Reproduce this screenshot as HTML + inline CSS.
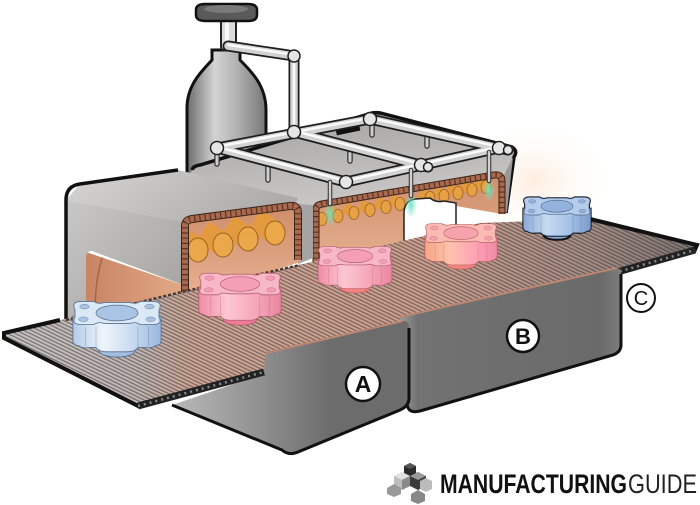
<!DOCTYPE html>
<html><head><meta charset="utf-8"><style>
html,body{margin:0;padding:0;background:#fff;width:700px;height:505px;overflow:hidden}
svg{display:block}
</style></head><body>
<svg xmlns="http://www.w3.org/2000/svg" xmlns:xlink="http://www.w3.org/1999/xlink" width="700" height="505" viewBox="0 0 700 505">
<defs>
 <linearGradient id="bottle" x1="0" x2="1" y1="0" y2="0">
  <stop offset="0" stop-color="#6c6c6c"/><stop offset="0.35" stop-color="#d4d4d4"/><stop offset="0.62" stop-color="#b3b3b3"/><stop offset="1" stop-color="#777"/>
 </linearGradient>
 <linearGradient id="hAtop" x1="0" y1="0" x2="1" y2="0.3">
  <stop offset="0" stop-color="#d8d6d4"/><stop offset="1" stop-color="#aeacaa"/>
 </linearGradient>
 <linearGradient id="hAend" x1="0" y1="0" x2="1" y2="1">
  <stop offset="0" stop-color="#cac8c6"/><stop offset="1" stop-color="#a09e9c"/>
 </linearGradient>
 <linearGradient id="hBtop" x1="0" y1="0" x2="0.3" y2="1">
  <stop offset="0" stop-color="#a4a2a0"/><stop offset="1" stop-color="#c9c7c5"/>
 </linearGradient>
 <linearGradient id="copper" x1="0" y1="0" x2="0" y2="1">
  <stop offset="0" stop-color="#cf8e6c"/><stop offset="1" stop-color="#e8b392"/>
 </linearGradient>
 <linearGradient id="copperL" x1="0" y1="0" x2="1" y2="0">
  <stop offset="0" stop-color="#c98464"/><stop offset="1" stop-color="#e2aa88"/>
 </linearGradient>
 <linearGradient id="beltg" gradientUnits="userSpaceOnUse" x1="0" y1="0" x2="700" y2="0">
  <stop offset="0" stop-color="#c6c3c3"/><stop offset="0.2" stop-color="#bdb5b2"/><stop offset="0.27" stop-color="#cba696"/><stop offset="0.6" stop-color="#c99f8e"/><stop offset="0.84" stop-color="#a48e87"/><stop offset="1" stop-color="#7c7472"/>
 </linearGradient>
 <pattern id="slats" width="3.3" height="20" patternUnits="userSpaceOnUse" patternTransform="rotate(-64)">
  <rect x="0" y="0" width="1.2" height="20" fill="#2e2220" fill-opacity="0.5"/>
 </pattern>
 <linearGradient id="trayA" gradientUnits="userSpaceOnUse" x1="175" y1="0" x2="330" y2="0">
  <stop offset="0" stop-color="#b8b8b8"/><stop offset="0.55" stop-color="#909090"/><stop offset="1" stop-color="#6c6c6c"/>
 </linearGradient>
 <linearGradient id="trayB" gradientUnits="userSpaceOnUse" x1="400" y1="0" x2="622" y2="0">
  <stop offset="0" stop-color="#9a9a9a"/><stop offset="0.08" stop-color="#727272"/><stop offset="0.9" stop-color="#6a6a6a"/><stop offset="1" stop-color="#7e7e7e"/>
 </linearGradient>
 <radialGradient id="glowG">
  <stop offset="0" stop-color="#6fe3c4" stop-opacity="0.95"/><stop offset="1" stop-color="#6fe3c4" stop-opacity="0"/>
 </radialGradient>
 <radialGradient id="warm">
  <stop offset="0" stop-color="#fde6d2" stop-opacity="0.7"/><stop offset="1" stop-color="#fff" stop-opacity="0"/>
 </radialGradient>
 <linearGradient id="sBL" x1="0" x2="1"><stop offset="0" stop-color="#b3cbe7"/><stop offset="0.35" stop-color="#eef4fb"/><stop offset="0.7" stop-color="#c6d8ee"/><stop offset="1" stop-color="#9ab7de"/></linearGradient>
 <linearGradient id="sBR" x1="0" x2="1"><stop offset="0" stop-color="#8aaad8"/><stop offset="0.35" stop-color="#c6daf0"/><stop offset="0.7" stop-color="#a3c0e5"/><stop offset="1" stop-color="#7b9ccd"/></linearGradient>
 <linearGradient id="sP" x1="0" x2="1"><stop offset="0" stop-color="#f08ca6"/><stop offset="0.35" stop-color="#fbc6d3"/><stop offset="0.7" stop-color="#f6a6b9"/><stop offset="1" stop-color="#e8879f"/></linearGradient>
 <linearGradient id="sO" x1="0" x2="1"><stop offset="0" stop-color="#f7a686"/><stop offset="0.35" stop-color="#ffc2ae"/><stop offset="0.7" stop-color="#ffa2b6"/><stop offset="1" stop-color="#f08aa6"/></linearGradient>
 <clipPath id="cutA"><path d="M186,222 L294,208 Q300,208 300,216 L300,262 L186,296 Z"/></clipPath>
 <clipPath id="cutB"><path d="M316,205 L498,175 L502,181 L502,214 L316,262 Z"/></clipPath>
 <g id="pp" fill="none">
  <path d="M228,46 L288,55 Q294,56 294,62 L294,132"/>
  <path d="M217,148 L370,119"/>
  <path d="M217,148 L346,182"/>
  <path d="M294,132 L428,167"/>
  <path d="M370,119 L508,150"/>
  <path d="M346,182 L499,148"/>
 </g>
</defs>

<ellipse cx="535" cy="180" rx="80" ry="60" fill="url(#warm)"/>

<!-- bottle -->
<path d="M187,180 L187,108 C187,84 203,70 212,60 L212,50 L240,50 L240,60 C252,72 266,86 266,110 L266,180 Z" fill="url(#bottle)" stroke="#111" stroke-width="3"/>
<rect x="221" y="18" width="15" height="32" rx="3" fill="#dcdcdc" stroke="#222" stroke-width="2"/>
<rect x="225" y="20" width="4" height="28" fill="#fafafa"/>
<path d="M196,10 Q196,4 205,4 L248,4 Q257,4 257,10 L257,15 Q257,21 248,21 L206,21 Q196,21 196,15 Z" fill="#5a5a5a" stroke="#111" stroke-width="2.5"/>
<ellipse cx="226" cy="9" rx="22" ry="4" fill="#7a7a7a"/>

<!-- hood B top -->
<path d="M190,178 Q190,167 200,165 L372,113 Q378,112 384,114 L512,147 Q517,151 513,157 L502,179 L316,206 L300,205 Z" fill="url(#hBtop)"/>
<path d="M262,142 L372,118 L445,137" fill="none" stroke="#3e3e3e" stroke-width="5"/>
<rect x="262" y="138" width="26" height="5" fill="#111" transform="rotate(-12 275 140)"/>
<rect x="336" y="128" width="24" height="5" fill="#111" transform="rotate(-12 348 130)"/>
<path d="M192,170 Q193,166 200,165 L372,113 Q378,112 384,114 L512,147 Q518,151 514,157 L506,213" fill="none" stroke="#111" stroke-width="3.5"/>
<path d="M502,179 L513,157 L507,212 L502,214 Z" fill="#9a9896"/>

<!-- hood B cut interior -->
<path d="M316,205 L498,175 L502,181 L502,214 L456,206 L456,242 L316,272 Z" fill="url(#copper)"/>
<g clip-path="url(#cutB)">
 <g fill="#e7a044" stroke="#9c6320" stroke-width="0.8">
  <g id="rb">
  <path d="M476,181 L486,187" stroke="#e39a3e" stroke-width="11" stroke-linecap="butt"/>
  <ellipse cx="486" cy="187" rx="5" ry="6.5"/>
  </g>
  <use xlink:href="#rb" transform="translate(-14,3)"/>
  <use xlink:href="#rb" transform="translate(-28,6)"/>
  <use xlink:href="#rb" transform="translate(-42,9)"/>
  <use xlink:href="#rb" transform="translate(-56,11)"/>
  <use xlink:href="#rb" transform="translate(-86,17)"/>
  <use xlink:href="#rb" transform="translate(-100,20)"/>
  <use xlink:href="#rb" transform="translate(-116,23)"/>
  <use xlink:href="#rb" transform="translate(-132,26)"/>
  <use xlink:href="#rb" transform="translate(-148,29)"/>
  <use xlink:href="#rb" transform="translate(-164,32)"/>
 </g>
</g>
<path d="M404,248 L404,212 Q405,200 416,199 L430,198 Q436,203 444,201 L456,203 L456,244 Z" fill="#fff" stroke="#222" stroke-width="1.5"/>
<path d="M316,264 L316,210 Q316,205 322,204 L494,175 Q502,174 502,181 L502,214" fill="none" stroke="#3a2418" stroke-width="7"/>
<path d="M316,264 L316,210 Q316,205 322,204 L494,175 Q502,174 502,181 L502,214" fill="none" stroke="#a8694e" stroke-width="5"/>
<path d="M316,264 L316,210 Q316,205 322,204 L494,175 Q502,174 502,181 L502,214" fill="none" stroke="#5a3222" stroke-width="5" stroke-dasharray="1.2 4"/>
<path d="M298,204 L313,205 L313,258 L298,264 Z" fill="#a6a4a2"/>

<!-- hood A -->
<path d="M86,252 L186,286 L186,320 L86,340 Z" fill="url(#copperL)"/>
<path d="M102,258 Q92,292 97,330" fill="none" stroke="#a5654a" stroke-width="1.5"/>
<path d="M66,200 L80,184 L178,170 L298,198 L294,208 L186,222 Z" fill="url(#hAtop)"/>
<path d="M66,200 L186,222 L186,286 L92,251 Q86,251 86,258 L86,330 L66,330 Z" fill="url(#hAend)"/>
<path d="M186,222 L294,208 Q300,208 300,216 L300,262 L186,300 Z" fill="url(#copper)"/>
<g clip-path="url(#cutA)" stroke="#9c6320" stroke-width="1">
 <path d="M255,219 L275,233" stroke="#e39a3e" stroke-width="23"/>
 <ellipse cx="275" cy="233" rx="10" ry="12" fill="#eba84a"/>
 <path d="M228,225 L248,239" stroke="#e39a3e" stroke-width="23"/>
 <ellipse cx="248" cy="239" rx="10" ry="12" fill="#eba84a"/>
 <path d="M203,231 L223,245" stroke="#e39a3e" stroke-width="23"/>
 <ellipse cx="223" cy="245" rx="10" ry="12" fill="#eba84a"/>
 <path d="M178,236 L198,250" stroke="#e39a3e" stroke-width="23"/>
 <ellipse cx="198" cy="250" rx="10" ry="12" fill="#eba84a"/>
</g>
<path d="M185,296 L185,226 Q185,220 192,219 L290,206 Q298,205 298,213 L298,260" fill="none" stroke="#3a2418" stroke-width="8"/>
<path d="M185,296 L185,226 Q185,220 192,219 L290,206 Q298,205 298,213 L298,260" fill="none" stroke="#a8694e" stroke-width="6"/>
<path d="M185,296 L185,226 Q185,220 192,219 L290,206 Q298,205 298,213 L298,260" fill="none" stroke="#5a3222" stroke-width="6" stroke-dasharray="1.2 4"/>
<path d="M66,330 L66,200 Q66,186 80,184 L178,170" fill="none" stroke="#111" stroke-width="3.5"/>

<!-- posts -->
<g stroke-linecap="round">
 <path d="M217,150 V164 M268,162 V180 M350,148 V161 M372,121 V135 M427,133 V146" stroke="#333" stroke-width="5.5"/>
 <path d="M217,150 V164 M268,162 V180 M350,148 V161 M372,121 V135 M427,133 V146" stroke="#cfcfcf" stroke-width="3"/>
</g>
<!-- pipes -->
<use xlink:href="#pp" stroke="#1e1e1e" stroke-width="11" stroke-linecap="round" stroke-linejoin="round"/>
<use xlink:href="#pp" stroke="#d2d2d2" stroke-width="7.5" stroke-linecap="round" stroke-linejoin="round"/>
<use xlink:href="#pp" stroke="#fbfbfb" stroke-width="2.5" stroke-linecap="round" stroke-linejoin="round" transform="translate(0,-1.2)"/>
<g fill="#e6e6e6" stroke="#222" stroke-width="1.5">
 <circle cx="217" cy="148" r="6.5"/><circle cx="294" cy="132" r="6.5"/><circle cx="370" cy="119" r="6.5"/>
 <circle cx="346" cy="182" r="6.5"/><circle cx="421" cy="165" r="6.5"/><circle cx="499" cy="148" r="6.5"/>
 <circle cx="294" cy="56" r="6"/><circle cx="428" cy="167" r="4.5"/><circle cx="508" cy="150" r="4.5"/>
</g>
<!-- nozzles -->
<ellipse cx="330" cy="214" rx="6" ry="13" fill="url(#glowG)"/>
<ellipse cx="411" cy="205" rx="6" ry="13" fill="url(#glowG)"/>
<ellipse cx="489" cy="190" rx="6" ry="12" fill="url(#glowG)"/>
<g stroke-linecap="round">
 <path d="M330,182 V204 M411,170 V196 M489,152 V181" stroke="#333" stroke-width="4.5"/>
 <path d="M330,182 V204 M411,170 V196 M489,152 V181" stroke="#d0d0d0" stroke-width="2.4"/>
</g>

<!-- belt -->
<path d="M4,333 L182,292 L480,223 L590,219 L697,245 L694,252 L140,407 L4,338 Z" fill="url(#beltg)"/>
<path d="M4,333 L182,292 L480,223 L590,219 L697,245 L694,252 L140,407 L4,338 Z" fill="url(#slats)"/>
<path d="M66,320 L182,292 L300,265" fill="none" stroke="#4a3630" stroke-width="2.5" stroke-dasharray="3 2"/>
<path d="M140,407 L4,338 L4,333 L60,320" fill="none" stroke="#111" stroke-width="4"/>
<path d="M590,219 L697,245 L694,252" fill="none" stroke="#111" stroke-width="4"/>
<path d="M614,273 L695,250" stroke="#222" stroke-width="7"/>
<path d="M614,273 L695,250" stroke="#8a8a8a" stroke-width="2.5" stroke-dasharray="2 4"/>

<!-- tray B -->
<path d="M400,317 L617,268 Q621,268 621,274 L621,345 Q621,352 613,355 L420,411 Q408,414 407,404 Z" fill="url(#trayB)"/>
<path d="M407,404 Q408,414 420,411 L613,355 Q621,352 621,345 L621,274" fill="none" stroke="#111" stroke-width="3"/>
<path d="M400,317 L617,268" stroke="#b98672" stroke-width="2"/>
<!-- tray A -->
<path d="M172,405 L263,374 L266,353 L403,321 Q409,320 409,328 L409,398 Q409,406 400,410 L298,452 Q289,456 282,450 Z" fill="url(#trayA)"/>
<path d="M172,405 L282,450 Q289,456 298,452 L400,410 Q409,406 409,398 L409,328" fill="none" stroke="#111" stroke-width="3"/>
<path d="M266,353 L403,321" stroke="#b98672" stroke-width="2"/>
<path d="M138,406 L264,372" stroke="#222" stroke-width="7"/>
<path d="M138,406 L264,372" stroke="#8a8a8a" stroke-width="2.5" stroke-dasharray="2 4"/>

<!-- parts -->
<g transform="translate(117,314) scale(1.05)">
 <ellipse cx="0" cy="35" rx="17" ry="6" fill="#a2bee2" stroke="#56708f" stroke-width="0.8"/>
 <path d="M-42,2 L-42,25 Q-42,30 -37,30 Q-33,33 -27,32 L-20,32 Q-17,36 -10,36 L10,36 Q17,36 20,32 L27,32 Q33,33 37,30 Q42,30 42,25 L42,2 Z" fill="url(#sBL)" stroke="#56708f" stroke-width="0.8"/>
 <path d="M-30,12 V31 M-20,12 V33 M20,12 V33 M30,12 V31" stroke="#56708f" stroke-opacity="0.3"/>
 <path d="M-40,-4 Q-44,-12 -34,-12 L-22,-12 Q-18,-9 -12,-11 L12,-11 Q18,-9 22,-12 L34,-12 Q44,-12 40,-4 L40,3 Q44,10 34,10 L22,10 Q18,7 12,9 L-12,9 Q-18,7 -22,10 L-34,10 Q-44,10 -40,3 Z" fill="#dbe8f6" stroke="#56708f" stroke-width="0.8"/>
 <ellipse cx="0" cy="-1" rx="20" ry="7.5" fill="#a9c4e4" stroke="#56708f" stroke-width="0.7"/>
 <g fill="#a9c4e4" stroke="#56708f" stroke-width="0.4"><ellipse cx="-31" cy="-7" rx="4.5" ry="2.2"/><ellipse cx="31" cy="-7" rx="4.5" ry="2.2"/><ellipse cx="-32" cy="5" rx="4.5" ry="2.2"/><ellipse cx="32" cy="5" rx="4.5" ry="2.2"/></g>
</g>
<g transform="translate(240,285) scale(0.98)">
 <ellipse cx="0" cy="35" rx="17" ry="6" fill="#f07b96" stroke="#b45c72" stroke-width="0.8"/>
 <path d="M-42,2 L-42,25 Q-42,30 -37,30 Q-33,33 -27,32 L-20,32 Q-17,36 -10,36 L10,36 Q17,36 20,32 L27,32 Q33,33 37,30 Q42,30 42,25 L42,2 Z" fill="url(#sP)" stroke="#b45c72" stroke-width="0.8"/>
 <path d="M-30,12 V31 M-20,12 V33 M20,12 V33 M30,12 V31" stroke="#b45c72" stroke-opacity="0.3"/>
 <path d="M-40,-4 Q-44,-12 -34,-12 L-22,-12 Q-18,-9 -12,-11 L12,-11 Q18,-9 22,-12 L34,-12 Q44,-12 40,-4 L40,3 Q44,10 34,10 L22,10 Q18,7 12,9 L-12,9 Q-18,7 -22,10 L-34,10 Q-44,10 -40,3 Z" fill="#f8b7c7" stroke="#b45c72" stroke-width="0.8"/>
 <ellipse cx="0" cy="-1" rx="20" ry="7.5" fill="#f49fb5" stroke="#b45c72" stroke-width="0.7"/>
 <g fill="#f49fb5" stroke="#b45c72" stroke-width="0.4"><ellipse cx="-31" cy="-7" rx="4.5" ry="2.2"/><ellipse cx="31" cy="-7" rx="4.5" ry="2.2"/><ellipse cx="-32" cy="5" rx="4.5" ry="2.2"/><ellipse cx="32" cy="5" rx="4.5" ry="2.2"/></g>
</g>
<g transform="translate(355,257) scale(0.88)">
 <ellipse cx="0" cy="35" rx="17" ry="6" fill="#f3837a" stroke="#b45c72" stroke-width="0.8"/>
 <path d="M-42,2 L-42,25 Q-42,30 -37,30 Q-33,33 -27,32 L-20,32 Q-17,36 -10,36 L10,36 Q17,36 20,32 L27,32 Q33,33 37,30 Q42,30 42,25 L42,2 Z" fill="url(#sP)" stroke="#b45c72" stroke-width="0.8"/>
 <path d="M-30,12 V31 M-20,12 V33 M20,12 V33 M30,12 V31" stroke="#b45c72" stroke-opacity="0.3"/>
 <path d="M-40,-4 Q-44,-12 -34,-12 L-22,-12 Q-18,-9 -12,-11 L12,-11 Q18,-9 22,-12 L34,-12 Q44,-12 40,-4 L40,3 Q44,10 34,10 L22,10 Q18,7 12,9 L-12,9 Q-18,7 -22,10 L-34,10 Q-44,10 -40,3 Z" fill="#f8b7c7" stroke="#b45c72" stroke-width="0.8"/>
 <ellipse cx="0" cy="-1" rx="20" ry="7.5" fill="#f49fb5" stroke="#b45c72" stroke-width="0.7"/>
 <g fill="#f49fb5" stroke="#b45c72" stroke-width="0.4"><ellipse cx="-31" cy="-7" rx="4.5" ry="2.2"/><ellipse cx="31" cy="-7" rx="4.5" ry="2.2"/><ellipse cx="-32" cy="5" rx="4.5" ry="2.2"/><ellipse cx="32" cy="5" rx="4.5" ry="2.2"/></g>
</g>
<g transform="translate(461,234) scale(0.86)">
 <ellipse cx="0" cy="35" rx="17" ry="6" fill="#f0857f" stroke="#b86060" stroke-width="0.8"/>
 <path d="M-42,2 L-42,25 Q-42,30 -37,30 Q-33,33 -27,32 L-20,32 Q-17,36 -10,36 L10,36 Q17,36 20,32 L27,32 Q33,33 37,30 Q42,30 42,25 L42,2 Z" fill="url(#sO)" stroke="#b86060" stroke-width="0.8"/>
 <path d="M-30,12 V31 M-20,12 V33 M20,12 V33 M30,12 V31" stroke="#b86060" stroke-opacity="0.3"/>
 <path d="M-40,-4 Q-44,-12 -34,-12 L-22,-12 Q-18,-9 -12,-11 L12,-11 Q18,-9 22,-12 L34,-12 Q44,-12 40,-4 L40,3 Q44,10 34,10 L22,10 Q18,7 12,9 L-12,9 Q-18,7 -22,10 L-34,10 Q-44,10 -40,3 Z" fill="#fbbab4" stroke="#b86060" stroke-width="0.8"/>
 <ellipse cx="0" cy="-1" rx="20" ry="7.5" fill="#f7a3ad" stroke="#b86060" stroke-width="0.7"/>
 <g fill="#f7a3ad" stroke="#b86060" stroke-width="0.4"><ellipse cx="-31" cy="-7" rx="4.5" ry="2.2"/><ellipse cx="31" cy="-7" rx="4.5" ry="2.2"/><ellipse cx="-32" cy="5" rx="4.5" ry="2.2"/><ellipse cx="32" cy="5" rx="4.5" ry="2.2"/></g>
</g>
<g transform="translate(557,207) scale(0.8)">
 <ellipse cx="0" cy="35" rx="17" ry="6" fill="#86a6d4" stroke="#111" stroke-width="2.5"/>
 <path d="M-42,2 L-42,25 Q-42,30 -37,30 Q-33,33 -27,32 L-20,32 Q-17,36 -10,36 L10,36 Q17,36 20,32 L27,32 Q33,33 37,30 Q42,30 42,25 L42,2 Z" fill="url(#sBR)" stroke="#111" stroke-width="2.5"/>
 <path d="M-40,-4 Q-44,-12 -34,-12 L-22,-12 Q-18,-9 -12,-11 L12,-11 Q18,-9 22,-12 L34,-12 Q44,-12 40,-4 L40,3 Q44,10 34,10 L22,10 Q18,7 12,9 L-12,9 Q-18,7 -22,10 L-34,10 Q-44,10 -40,3 Z" fill="none" stroke="#111" stroke-width="2.5"/>
 <path d="M-42,2 L-42,25 Q-42,30 -37,30 Q-33,33 -27,32 L-20,32 Q-17,36 -10,36 L10,36 Q17,36 20,32 L27,32 Q33,33 37,30 Q42,30 42,25 L42,2 Z" fill="url(#sBR)" stroke="#4a6286" stroke-width="0.8"/>
 <path d="M-30,12 V31 M-20,12 V33 M20,12 V33 M30,12 V31" stroke="#4a6286" stroke-opacity="0.3"/>
 <path d="M-40,-4 Q-44,-12 -34,-12 L-22,-12 Q-18,-9 -12,-11 L12,-11 Q18,-9 22,-12 L34,-12 Q44,-12 40,-4 L40,3 Q44,10 34,10 L22,10 Q18,7 12,9 L-12,9 Q-18,7 -22,10 L-34,10 Q-44,10 -40,3 Z" fill="#b5cdea" stroke="#4a6286" stroke-width="0.8"/>
 <ellipse cx="0" cy="-1" rx="20" ry="7.5" fill="#93b3dc" stroke="#4a6286" stroke-width="0.7"/>
 <g fill="#93b3dc" stroke="#4a6286" stroke-width="0.4"><ellipse cx="-31" cy="-7" rx="4.5" ry="2.2"/><ellipse cx="31" cy="-7" rx="4.5" ry="2.2"/><ellipse cx="-32" cy="5" rx="4.5" ry="2.2"/><ellipse cx="32" cy="5" rx="4.5" ry="2.2"/></g>
</g>

<!-- labels -->
<g font-family="Liberation Sans, sans-serif" font-weight="bold" text-anchor="middle" fill="#111">
 <circle cx="363" cy="384" r="17" fill="#fff" stroke="#111" stroke-width="2.5"/>
 <text x="363" y="392" font-size="23">A</text>
 <circle cx="523" cy="336" r="16" fill="#fff" stroke="#111" stroke-width="2.5"/>
 <text x="523" y="344" font-size="22">B</text>
 <circle cx="641" cy="298" r="14" fill="#fff" stroke="#111" stroke-width="2"/>
 <text x="641" y="305" font-size="20" font-weight="normal">C</text>
</g>

<!-- logo -->
<g>
 <polygon points="410,463 416,466 416,476 410,479 404,476 404,466" fill="#2a2a2a"/>
 <polygon points="404,466 410,463 416,466 410,469" fill="#555"/>
 <polygon points="402,472 410,476 410,486 402,490 394,486 394,476" fill="#bdbdbd"/>
 <polygon points="394,476 402,472 410,476 402,480" fill="#e0e0e0"/>
 <polygon points="402,480 410,476 410,486 402,490" fill="#8a8a8a"/>
 <polygon points="418,472 426,476 426,486 418,490 410,486 410,476" fill="#3a3a3a"/>
 <polygon points="410,476 418,472 426,476 418,480" fill="#9a9a9a"/>
 <polygon points="426,478 432,481 432,489 426,492 420,489 420,481" fill="#bbb"/>
 <polygon points="394,484 401,488 401,494 394,497 387,494 387,488" fill="#999"/>
 <polygon points="418,490 425,494 425,501 418,504 411,501 411,494" fill="#888"/>
 <text x="440" y="493" font-family="Liberation Sans, sans-serif" font-weight="bold" font-size="27" textLength="187" lengthAdjust="spacingAndGlyphs" fill="#111">MANUFACTURING</text>
 <text x="628" y="493" font-family="Liberation Sans, sans-serif" font-size="27" textLength="69" lengthAdjust="spacingAndGlyphs" fill="#222">GUIDE</text>
</g>
</svg>
</body></html>
